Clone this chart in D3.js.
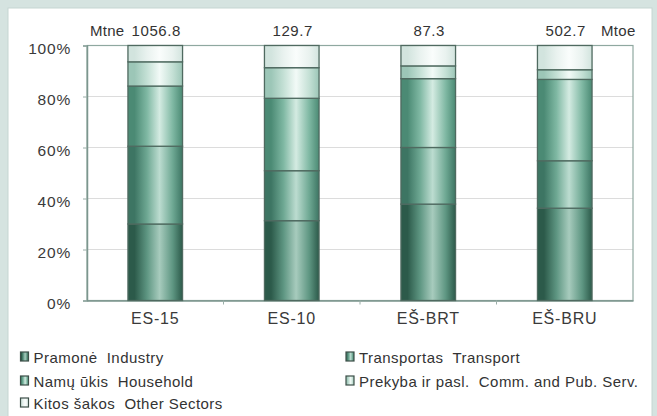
<!DOCTYPE html>
<html><head><meta charset="utf-8">
<script src="https://cdn.jsdelivr.net/npm/d3@7"></script>
<style>
html,body{margin:0;padding:0;background:#d5e3e0;}
svg{display:block;font-family:"Liberation Sans",Arial,sans-serif;}
text{white-space:pre;}
</style></head><body>
<svg id="c" width="657" height="416"></svg>
<script>
const categories = ["ES-15", "ES-10", "EŠ-BRT", "EŠ-BRU"];
const totals = ["1056.8", "129.7", "87.3", "502.7"];
const industry  = [30.0, 31.3, 37.8, 36.2];
const transport = [30.5, 19.6, 22.2, 18.6];
const household = [23.6, 28.4, 27.0, 31.9];
const commPub   = [9.5, 12.0, 5.0, 3.8];
const other     = [6.4, 8.7, 8.0, 9.5];
const yTicks = [0, 20, 40, 60, 80, 100];
const seriesNames = ["Pramonė  Industry", "Transportas  Transport", "Namų ūkis  Household", "Prekyba ir pasl.  Comm. and Pub. Serv.", "Kitos šakos  Other Sectors"];
const seriesKeys = ["industry", "transport", "household", "commPub", "other"];

const rows = categories.map((c, i) => ({cat: c, industry: industry[i], transport: transport[i], household: household[i], commPub: commPub[i], other: other[i]}));

const svg = d3.select("#c");
svg.append("rect").attr("x", 8).attr("y", 8).attr("width", 644).attr("height", 410).attr("fill", "#fff").attr("stroke", "#c6d6d2");

const m = {l: 87, r: 633, t: 45.5, b: 300.5};
const x = d3.scaleBand().domain(categories).range([m.l, m.r]).paddingInner(0.6).paddingOuter(0.3);
const y = d3.scaleLinear().domain([0, 100]).range([m.b, m.t]);

// gradients
const edge = ["#2c5a4a", "#3d7563", "#4b8a74", "#9cc6b7", "#d2e4de"];
const mid  = ["#5e9682", "#6ea893", "#7fb8a3", "#c4e0d5", "#e9f2ef"];
const hi   = ["#a7cbbd", "#bcdcd0", "#d4ebe2", "#f2faf7", "#fafdfc"];
const defs = svg.append("defs");
seriesKeys.forEach((k, i) => {
  const g = defs.append("linearGradient").attr("id", "g" + i).attr("x1", "0").attr("x2", "1").attr("y1", "0").attr("y2", "0");
  g.append("stop").attr("offset", "0").attr("stop-color", edge[i]);
  g.append("stop").attr("offset", "0.12").attr("stop-color", edge[i]);
  g.append("stop").attr("offset", "0.35").attr("stop-color", mid[i]);
  g.append("stop").attr("offset", "0.58").attr("stop-color", hi[i]);
  g.append("stop").attr("offset", "0.82").attr("stop-color", mid[i]);
  g.append("stop").attr("offset", "1").attr("stop-color", edge[i]);
});

// gridlines
svg.append("g").selectAll("line").data(yTicks.filter(t => t > 0 && t < 100)).join("line")
  .attr("x1", m.l).attr("x2", m.r).attr("y1", d => y(d)).attr("y2", d => y(d))
  .attr("stroke", "#dcdcdc").attr("stroke-width", 1.2);

// plot border
svg.append("rect").attr("x", m.l).attr("y", m.t).attr("width", m.r - m.l).attr("height", m.b - m.t)
  .attr("fill", "none").attr("stroke", "#8fa8a0").attr("stroke-width", 1.2);

// y axis
const ya = svg.append("g").attr("transform", `translate(${m.l},0)`)
  .call(d3.axisLeft(y).tickValues(yTicks).tickFormat(d => d + "%").tickSize(4).tickPadding(12));
ya.select(".domain").attr("stroke", "#7c968e").attr("stroke-width", 1.5);
ya.selectAll(".tick line").attr("stroke", "#9aaea8");
ya.selectAll("text").attr("font-size", 15.5).attr("letter-spacing", 0.8).attr("dy", "0.52em")
  .attr("fill", "#3a3a3a").attr("font-family", "Liberation Sans, Arial, sans-serif");

// x axis
const xa = svg.append("g").attr("transform", `translate(0,${m.b})`)
  .call(d3.axisBottom(x).tickSize(0).tickPadding(12));
xa.select(".domain").attr("stroke", "#7c968e").attr("stroke-width", 1.5);
xa.selectAll("text").attr("font-size", 16).attr("letter-spacing", 0.8).attr("fill", "#3a3a3a").attr("font-family", "Liberation Sans, Arial, sans-serif");
// category boundary ticks
const step = x.step();
svg.append("g").selectAll("line").data(categories.slice(0, -1)).join("line")
  .attr("x1", d => x(d) + x.bandwidth() / 2 + step / 2).attr("x2", d => x(d) + x.bandwidth() / 2 + step / 2)
  .attr("y1", m.b).attr("y2", m.b + 4).attr("stroke", "#9aaea8");

// stacks
const stack = d3.stack().keys(seriesKeys)(rows);
svg.append("g").selectAll("g").data(stack).join("g")
  .attr("fill", (d, i) => `url(#g${i})`)
  .selectAll("rect").data(d => d).join("rect")
  .attr("x", d => x(d.data.cat)).attr("width", x.bandwidth())
  .attr("y", d => y(d[1])).attr("height", d => y(d[0]) - y(d[1]))
  .attr("stroke", "#4f6a60").attr("stroke-width", 1.3);

// totals
svg.append("g").selectAll("text").data(categories).join("text")
  .attr("x", (d) => x(d) + x.bandwidth() / 2 + 1).attr("y", 36)
  .attr("text-anchor", "middle").attr("font-size", 15).attr("letter-spacing", 0.6).attr("fill", "#333")
  .text((d, i) => totals[i]);
svg.append("text").attr("x", x(categories[0]) - 38).attr("y", 36).attr("font-size", 15).attr("letter-spacing", 0.3).attr("fill", "#333").text("Mtne");
svg.append("text").attr("x", x(categories[3]) + x.bandwidth() + 9).attr("y", 36).attr("font-size", 15).attr("letter-spacing", 0.3).attr("fill", "#333").text("Mtoe");

// legend
const legPos = [[20.5, 363], [346, 363], [20.5, 387], [346, 387], [20.5, 409]];
const lg = svg.append("g").selectAll("g").data(seriesNames).join("g")
  .attr("transform", (d, i) => `translate(${legPos[i][0]},${legPos[i][1]})`);
lg.append("rect").attr("x", 0).attr("y", -11).attr("width", 8).attr("height", 9)
  .attr("fill", (d, i) => `url(#g${i})`).attr("stroke", "#3d4f48").attr("stroke-width", 1.2);
lg.append("text").attr("x", 13).attr("y", 0).attr("font-size", 15).attr("letter-spacing", 0.45).attr("fill", "#333").text(d => d);
</script>
</body></html>
